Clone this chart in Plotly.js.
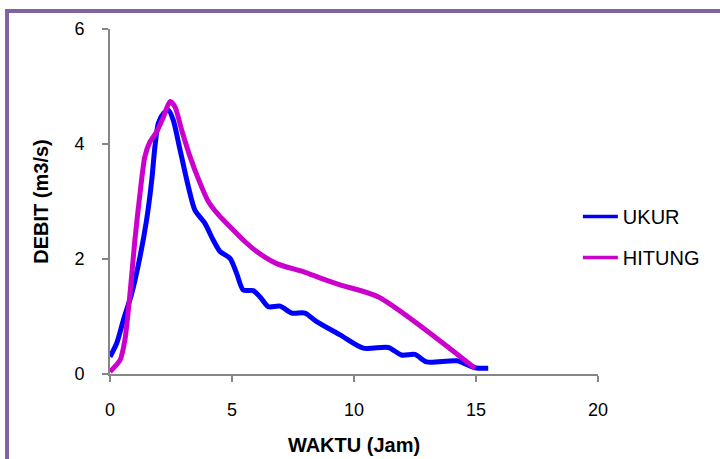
<!DOCTYPE html>
<html>
<head>
<meta charset="utf-8">
<script src="https://cdn.plot.ly/plotly-3.0.1.min.js"></script>
<style>html,body{margin:0;padding:0;background:#fff;}#chart{width:720px;height:459px;}</style>
</head>
<body>
<div id="chart"></div>
<script>
var ukurX = [0, 0.27, 0.55, 0.89, 1.23, 1.5, 1.71, 1.84, 1.98, 2.19, 2.39, 2.59, 2.87, 3.21, 3.48, 3.89, 4.23, 4.51, 4.92, 5.19, 5.46, 5.87, 6.15, 6.49, 6.97, 7.45, 7.99, 8.47, 9.43, 10.38, 11.41, 11.95, 12.5, 12.98, 14.21, 14.96, 15.5];
var ukurY = [0.3, 0.53, 0.94, 1.4, 2.04, 2.68, 3.37, 3.95, 4.36, 4.53, 4.59, 4.42, 3.9, 3.26, 2.85, 2.62, 2.33, 2.13, 2.01, 1.75, 1.46, 1.45, 1.34, 1.17, 1.18, 1.06, 1.06, 0.91, 0.68, 0.45, 0.46, 0.33, 0.34, 0.21, 0.23, 0.11, 0.1];
var hitungX = [0, 0.41, 0.61, 0.82, 1.02, 1.23, 1.43, 1.64, 1.91, 2.19, 2.46, 2.66, 2.94, 3.28, 3.69, 4.03, 4.44, 4.92, 5.46, 6.01, 6.83, 7.92, 8.74, 9.43, 11.0, 14.96];
var hitungY = [0.04, 0.24, 0.59, 1.4, 2.33, 3.14, 3.78, 4.04, 4.21, 4.47, 4.74, 4.65, 4.24, 3.78, 3.32, 3.0, 2.77, 2.56, 2.33, 2.13, 1.92, 1.78, 1.65, 1.55, 1.34, 0.1];
var xTicks = [0, 5, 10, 15, 20];
var yTicks = [0, 2, 4, 6];
var seriesNames = ['UKUR', 'HITUNG'];

var font = 'Arial, "Liberation Sans", sans-serif';
var traces = [
  {x: ukurX, y: ukurY, name: seriesNames[0], mode: 'lines', legendgroup: 'a',
   line: {color: '#0000FF', width: 5, shape: 'spline', smoothing: 0.7}},
  {x: hitungX, y: hitungY, name: seriesNames[1], mode: 'lines', legendgroup: 'b',
   line: {color: '#CC00CC', width: 5, shape: 'spline', smoothing: 0.7}}
];
var layout = {
  width: 720, height: 459,
  margin: {l: 110, r: 122, t: 29, b: 85},
  paper_bgcolor: '#fff', plot_bgcolor: '#fff',
  font: {family: font, color: '#000', size: 18},
  showlegend: true,
  legend: {x: 0.969, xanchor: 'left', y: 0.513, yanchor: 'top', font: {size: 20, family: font},
           tracegroupgap: 12, bgcolor: 'rgba(0,0,0,0)'},
  xaxis: {range: [0, 20], tickvals: xTicks, ticktext: xTicks.map(String), showgrid: false, zeroline: false,
          showline: true, linecolor: '#868686', linewidth: 2, ticks: 'outside', ticklen: 6, tickwidth: 1.5,
          tickcolor: '#868686', tickfont: {size: 18, family: font}, ticklabelstandoff: 12,
          title: {text: '<b>WAKTU (Jam)</b>', font: {size: 20, family: font}, standoff: 19}},
  yaxis: {range: [0, 6], tickvals: yTicks, ticktext: yTicks.map(String), showgrid: false, zeroline: false,
          showline: true, linecolor: '#868686', linewidth: 2, ticks: 'outside', ticklen: 6, tickwidth: 1.5,
          tickcolor: '#868686', tickfont: {size: 18, family: font}, ticklabelstandoff: 14,
          title: {text: '<b>DEBIT (m3/s)</b>', font: {size: 20, family: font}, standoff: 20}},
  shapes: [{type: 'rect', xref: 'paper', yref: 'paper', x0: -0.211, x1: 1.3, y0: -0.3, y1: 1.052,
            line: {color: '#8064A2', width: 4}, fillcolor: 'rgba(0,0,0,0)', layer: 'below'}]
};
Plotly.newPlot('chart', traces, layout, {displayModeBar: false, staticPlot: true}).then(function (gd) {
  gd.querySelectorAll('.legend .legendlines path').forEach(function (p) {
    p.setAttribute('d', 'M-19,0h54');
    p.style.strokeWidth = '3.5px';
  });
});
</script>
</body>
</html>
